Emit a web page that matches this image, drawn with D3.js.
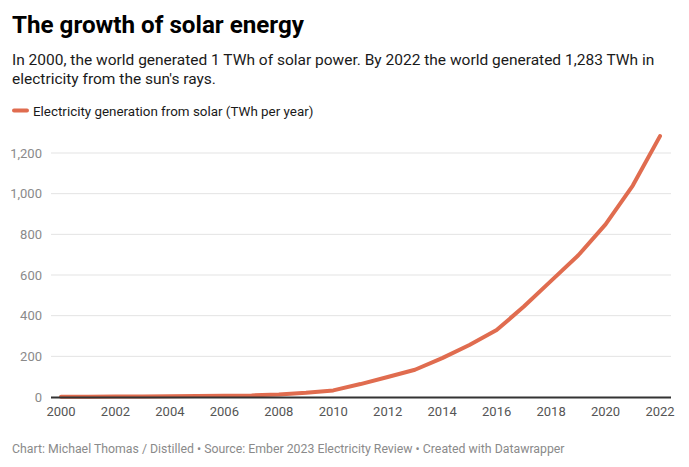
<!DOCTYPE html>
<html><head><meta charset="utf-8">
<script src="https://cdn.jsdelivr.net/npm/d3@7"></script>
<style>body{margin:0;background:#fff;font-family:Roboto,"Noto Sans",sans-serif;}</style>
</head><body>
<svg id="c" width="689" height="467"></svg>
<script>
const years = d3.range(2000, 2023);
const solarTWh = [1.1,1.4,1.9,2.6,3.5,4.6,5.9,7.7,12.5,20.4,32.5,63.6,98.6,134,191,256,329,445,571,697,849,1040,1283];
const yTicks = [0,200,400,600,800,1000,1200];
const xTicks = [2000,2002,2004,2006,2008,2010,2012,2014,2016,2018,2020,2022];
const seriesName = "Electricity generation from solar (TWh per year)";

const svg = d3.select("#c");
const x = d3.scaleLinear().domain([2000,2022]).range([61,660]);
const y = d3.scaleLinear().domain([0,1200]).range([397,153]);

svg.append("text").attr("x",12).attr("y",32.5).attr("font-size",24.2).attr("font-weight",700).attr("fill","#000").text("The growth of solar energy");
const sub = svg.append("text").attr("font-size",15.5).attr("fill","#1a1a1a");
sub.append("tspan").attr("x",12).attr("y",65).text("In 2000, the world generated 1 TWh of solar power. By 2022 the world generated 1,283 TWh in");
sub.append("tspan").attr("x",12).attr("y",84).text("electricity from the sun's rays.");

svg.append("line").attr("x1",14).attr("x2",27).attr("y1",110.5).attr("y2",110.5).attr("stroke","#e06c4f").attr("stroke-width",4).attr("stroke-linecap","round");
svg.append("text").attr("x",33).attr("y",115.5).attr("font-size",13.4).attr("fill","#1a1a1a").text(seriesName);

const g = svg.append("g");
g.selectAll(".grid").data(yTicks.filter(d=>d>0)).join("line")
  .attr("x1",51).attr("x2",671).attr("y1",d=>y(d)).attr("y2",d=>y(d))
  .attr("stroke","#e3e3e3").attr("stroke-width",1);
g.selectAll(".yl").data(yTicks).join("text")
  .attr("x",42).attr("y",d=>y(d)+4.5).attr("text-anchor","end")
  .attr("font-size",13).attr("fill","#8a8a8a").text(d=>d3.format(",")(d));
g.selectAll(".xl").data(xTicks).join("text")
  .attr("x",d=>x(d)).attr("y",416).attr("text-anchor","middle")
  .attr("font-size",13).attr("fill","#555").text(d=>d);

const line = d3.line().x((d,i)=>x(years[i])).y(d=>y(d));
svg.append("path").datum(solarTWh).attr("d",line).attr("fill","none")
  .attr("stroke","#e06c4f").attr("stroke-width",4).attr("stroke-linejoin","round").attr("stroke-linecap","round");
svg.append("line").attr("x1",51).attr("x2",671).attr("y1",y(0)+0.5).attr("y2",y(0)+0.5).attr("stroke","#333").attr("stroke-width",2);

svg.append("text").attr("x",12).attr("y",453).attr("font-size",12.3).attr("fill","#8a8a8a")
  .text("Chart: Michael Thomas / Distilled \u2022 Source: Ember 2023 Electricity Review \u2022 Created with Datawrapper");
</script>
</body></html>
